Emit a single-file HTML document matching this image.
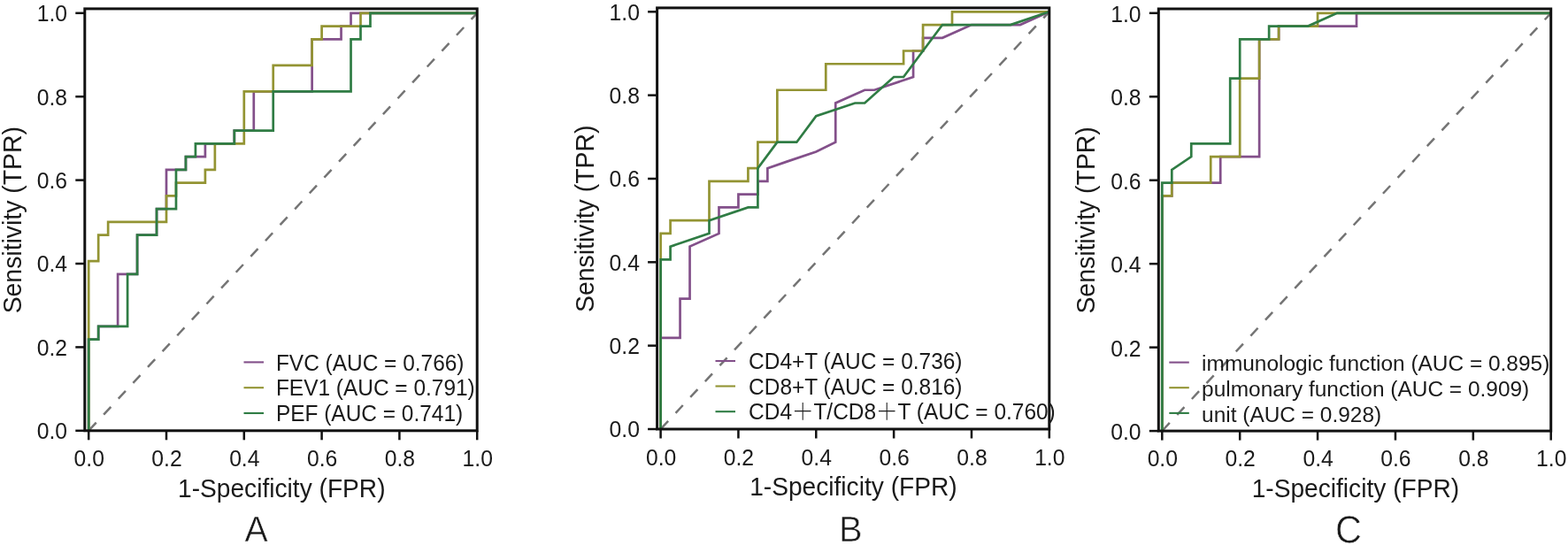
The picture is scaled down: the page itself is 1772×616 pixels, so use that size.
<!DOCTYPE html>
<html lang="en"><head><meta charset="utf-8"><title>ROC curves</title>
<style>html,body{margin:0;padding:0;background:#fff}body{width:1772px;height:616px;overflow:hidden}svg{display:block}text{font-family:"Liberation Sans", sans-serif;fill:#1a1a1a}text.pl{stroke:#fff;stroke-width:0.6px;paint-order:fill}text.cj{font-family:"Liberation Sans","Noto Serif CJK SC",serif}</style>
</head><body>
<svg width="1772" height="616" viewBox="0 0 1772 616">
<rect x="0" y="0" width="1772" height="616" fill="#ffffff"/>
<g>
<line x1="100.2" y1="486.8" x2="539.2" y2="14.8" stroke="#747474" stroke-width="2.5" stroke-dasharray="12 12.4" stroke-dashoffset="-0.5"/>
<polyline points="100.2,486.8 100.2,383.55 111.18,383.55 111.18,368.8 133.12,368.8 133.12,309.8 155.08,309.8 155.08,265.55 177.03,265.55 177.03,236.05 188,236.05 188,191.8 209.95,191.8 209.95,177.05 231.9,177.05 231.9,162.3 264.83,162.3 264.83,147.55 286.78,147.55 286.78,103.3 352.62,103.3 352.62,44.3 385.55,44.3 385.55,29.55 396.53,29.55 396.53,14.8 539.2,14.8" fill="none" stroke="#83508a" stroke-width="2.7" stroke-linejoin="miter"/>
<polyline points="100.2,486.8 100.2,295.05 111.18,295.05 111.18,265.55 122.15,265.55 122.15,250.8 188,250.8 188,221.3 198.98,221.3 198.98,206.55 231.9,206.55 231.9,191.8 242.88,191.8 242.88,162.3 275.8,162.3 275.8,103.3 308.73,103.3 308.73,73.8 352.62,73.8 352.62,44.3 363.6,44.3 363.6,29.55 407.5,29.55 407.5,14.8 539.2,14.8" fill="none" stroke="#939433" stroke-width="2.7" stroke-linejoin="miter"/>
<polyline points="100.2,486.8 100.2,383.55 111.18,383.55 111.18,368.8 144.1,368.8 144.1,309.8 155.08,309.8 155.08,265.55 177.03,265.55 177.03,236.05 198.98,236.05 198.98,191.8 209.95,191.8 209.95,177.05 220.93,177.05 220.93,162.3 264.83,162.3 264.83,147.55 308.73,147.55 308.73,103.3 396.53,103.3 396.53,44.3 407.5,44.3 407.5,29.55 418.48,29.55 418.48,14.8 539.2,14.8" fill="none" stroke="#2f7c44" stroke-width="2.7" stroke-linejoin="miter"/>
<rect x="95.8" y="9.9" width="443.4" height="476.9" fill="none" stroke="#111111" stroke-width="3.0"/>
<line x1="100.2" y1="486.8" x2="100.2" y2="497.3" stroke="#111111" stroke-width="2.5"/>
<text transform="translate(100.7 527.2) scale(1 1.01)" font-size="24.7" text-anchor="middle">0.0</text>
<line x1="85.3" y1="486.8" x2="95.8" y2="486.8" stroke="#111111" stroke-width="2.5"/>
<text transform="translate(76.1 496.2) scale(1 1.01)" font-size="24.7" text-anchor="end">0.0</text>
<line x1="188" y1="486.8" x2="188" y2="497.3" stroke="#111111" stroke-width="2.5"/>
<text transform="translate(188.5 527.2) scale(1 1.01)" font-size="24.7" text-anchor="middle">0.2</text>
<line x1="85.3" y1="392.4" x2="95.8" y2="392.4" stroke="#111111" stroke-width="2.5"/>
<text transform="translate(76.1 401.8) scale(1 1.01)" font-size="24.7" text-anchor="end">0.2</text>
<line x1="275.8" y1="486.8" x2="275.8" y2="497.3" stroke="#111111" stroke-width="2.5"/>
<text transform="translate(276.3 527.2) scale(1 1.01)" font-size="24.7" text-anchor="middle">0.4</text>
<line x1="85.3" y1="298" x2="95.8" y2="298" stroke="#111111" stroke-width="2.5"/>
<text transform="translate(76.1 307.4) scale(1 1.01)" font-size="24.7" text-anchor="end">0.4</text>
<line x1="363.6" y1="486.8" x2="363.6" y2="497.3" stroke="#111111" stroke-width="2.5"/>
<text transform="translate(364.1 527.2) scale(1 1.01)" font-size="24.7" text-anchor="middle">0.6</text>
<line x1="85.3" y1="203.6" x2="95.8" y2="203.6" stroke="#111111" stroke-width="2.5"/>
<text transform="translate(76.1 213) scale(1 1.01)" font-size="24.7" text-anchor="end">0.6</text>
<line x1="451.4" y1="486.8" x2="451.4" y2="497.3" stroke="#111111" stroke-width="2.5"/>
<text transform="translate(451.9 527.2) scale(1 1.01)" font-size="24.7" text-anchor="middle">0.8</text>
<line x1="85.3" y1="109.2" x2="95.8" y2="109.2" stroke="#111111" stroke-width="2.5"/>
<text transform="translate(76.1 118.6) scale(1 1.01)" font-size="24.7" text-anchor="end">0.8</text>
<line x1="539.2" y1="486.8" x2="539.2" y2="497.3" stroke="#111111" stroke-width="2.5"/>
<text transform="translate(539.7 527.2) scale(1 1.01)" font-size="24.7" text-anchor="middle">1.0</text>
<line x1="85.3" y1="14.8" x2="95.8" y2="14.8" stroke="#111111" stroke-width="2.5"/>
<text transform="translate(76.1 24.2) scale(1 1.01)" font-size="24.7" text-anchor="end">1.0</text>
<text transform="translate(318.3 561.7) scale(1 1.055)" font-size="28.15" text-anchor="middle">1-Specificity (FPR)</text>
<text transform="translate(23.7 248.7) rotate(-90) scale(1 1.02)" font-size="28.4" text-anchor="middle">Sensitivity (TPR)</text>
<line x1="275.5" y1="409.4" x2="298" y2="409.4" stroke="#83508a" stroke-width="2.1"/>
<text transform="translate(311.9 418.5) scale(1 1.04)" font-size="24.45">FVC (AUC = 0.766)</text>
<line x1="275.5" y1="438.2" x2="298" y2="438.2" stroke="#939433" stroke-width="2.1"/>
<text transform="translate(311.9 447.3) scale(1 1.04)" font-size="24.45">FEV1 (AUC = 0.791)</text>
<line x1="275.5" y1="467" x2="298" y2="467" stroke="#2f7c44" stroke-width="2.1"/>
<text transform="translate(311.9 476.1) scale(1 1.04)" font-size="24.45">PEF (AUC = 0.741)</text>
<text transform="translate(289.6 611.5) scale(1 1.018)" font-size="39.4" text-anchor="middle" class="pl">A</text>
</g>
<g>
<line x1="746.6" y1="485" x2="1185.8" y2="13.3" stroke="#747474" stroke-width="2.5" stroke-dasharray="12 12.4" stroke-dashoffset="-0.5"/>
<polyline points="746.6,485 746.6,381.82 768.56,381.82 768.56,337.59 779.54,337.59 779.54,278.63 812.48,263.89 812.48,234.41 834.44,234.41 834.44,219.67 856.4,219.67 856.4,204.93 867.38,204.93 867.38,190.19 889.34,182.64 922.28,171.56 944.24,160.71 944.24,116.48 977.18,101.74 988.16,101.74 1032.08,87 1032.08,57.52 1043.06,57.52 1043.06,42.78 1065.02,42.78 1097.96,28.04 1152.86,28.04 1185.8,13.3" fill="none" stroke="#83508a" stroke-width="2.7" stroke-linejoin="miter"/>
<polyline points="746.6,485 746.6,263.89 757.58,263.89 757.58,249.15 801.5,249.15 801.5,204.93 845.42,204.93 845.42,190.19 856.4,190.19 856.4,160.71 878.36,160.71 878.36,101.74 933.26,101.74 933.26,72.26 1021.1,72.26 1021.1,57.52 1043.06,57.52 1043.06,28.04 1076,28.04 1076,13.3 1185.8,13.3" fill="none" stroke="#939433" stroke-width="2.7" stroke-linejoin="miter"/>
<polyline points="746.6,485 746.6,293.37 757.58,293.37 757.58,278.63 801.5,263.89 801.5,249.15 845.42,234.41 856.4,234.41 856.4,190.19 878.36,160.71 900.32,160.71 922.28,131.23 966.2,116.48 977.18,116.48 1010.12,87 1021.1,87 1065.02,28.04 1141.88,28.04 1185.8,13.3" fill="none" stroke="#2f7c44" stroke-width="2.7" stroke-linejoin="miter"/>
<rect x="742.6" y="8.9" width="443.2" height="476.1" fill="none" stroke="#111111" stroke-width="3.0"/>
<line x1="746.6" y1="485" x2="746.6" y2="495.5" stroke="#111111" stroke-width="2.5"/>
<text transform="translate(747.1 526.3) scale(1 1.01)" font-size="24.7" text-anchor="middle">0.0</text>
<line x1="732.1" y1="485" x2="742.6" y2="485" stroke="#111111" stroke-width="2.5"/>
<text transform="translate(722.9 494.4) scale(1 1.01)" font-size="24.7" text-anchor="end">0.0</text>
<line x1="834.44" y1="485" x2="834.44" y2="495.5" stroke="#111111" stroke-width="2.5"/>
<text transform="translate(834.94 526.3) scale(1 1.01)" font-size="24.7" text-anchor="middle">0.2</text>
<line x1="732.1" y1="390.66" x2="742.6" y2="390.66" stroke="#111111" stroke-width="2.5"/>
<text transform="translate(722.9 400.06) scale(1 1.01)" font-size="24.7" text-anchor="end">0.2</text>
<line x1="922.28" y1="485" x2="922.28" y2="495.5" stroke="#111111" stroke-width="2.5"/>
<text transform="translate(922.78 526.3) scale(1 1.01)" font-size="24.7" text-anchor="middle">0.4</text>
<line x1="732.1" y1="296.32" x2="742.6" y2="296.32" stroke="#111111" stroke-width="2.5"/>
<text transform="translate(722.9 305.72) scale(1 1.01)" font-size="24.7" text-anchor="end">0.4</text>
<line x1="1010.12" y1="485" x2="1010.12" y2="495.5" stroke="#111111" stroke-width="2.5"/>
<text transform="translate(1010.62 526.3) scale(1 1.01)" font-size="24.7" text-anchor="middle">0.6</text>
<line x1="732.1" y1="201.98" x2="742.6" y2="201.98" stroke="#111111" stroke-width="2.5"/>
<text transform="translate(722.9 211.38) scale(1 1.01)" font-size="24.7" text-anchor="end">0.6</text>
<line x1="1097.96" y1="485" x2="1097.96" y2="495.5" stroke="#111111" stroke-width="2.5"/>
<text transform="translate(1098.46 526.3) scale(1 1.01)" font-size="24.7" text-anchor="middle">0.8</text>
<line x1="732.1" y1="107.64" x2="742.6" y2="107.64" stroke="#111111" stroke-width="2.5"/>
<text transform="translate(722.9 117.04) scale(1 1.01)" font-size="24.7" text-anchor="end">0.8</text>
<line x1="1185.8" y1="485" x2="1185.8" y2="495.5" stroke="#111111" stroke-width="2.5"/>
<text transform="translate(1186.3 526.3) scale(1 1.01)" font-size="24.7" text-anchor="middle">1.0</text>
<line x1="732.1" y1="13.3" x2="742.6" y2="13.3" stroke="#111111" stroke-width="2.5"/>
<text transform="translate(722.9 22.7) scale(1 1.01)" font-size="24.7" text-anchor="end">1.0</text>
<text transform="translate(964.4 560.4) scale(1 1.055)" font-size="28.15" text-anchor="middle">1-Specificity (FPR)</text>
<text transform="translate(670.5 247.3) rotate(-90) scale(1 1.02)" font-size="28.4" text-anchor="middle">Sensitivity (TPR)</text>
<line x1="808.5" y1="408" x2="831" y2="408" stroke="#83508a" stroke-width="2.1"/>
<text transform="translate(846.1 417.1) scale(1 1.04)" font-size="24.45">CD4+T (AUC = 0.736)</text>
<line x1="808.5" y1="436.5" x2="831" y2="436.5" stroke="#939433" stroke-width="2.1"/>
<text transform="translate(846.1 445.6) scale(1 1.04)" font-size="24.45">CD8+T (AUC = 0.816)</text>
<line x1="808.5" y1="465.2" x2="831" y2="465.2" stroke="#2f7c44" stroke-width="2.1"/>
<text transform="translate(846.1 474.3) scale(1 1.04)" font-size="24.45" class="cj">CD4＋T/CD8＋T (AUC = 0.760)</text>
<text transform="translate(961.4 611.5) scale(1 1.02)" font-size="39.85" text-anchor="middle" class="pl">B</text>
</g>
<g>
<line x1="1313.3" y1="487.1" x2="1752.7" y2="14.8" stroke="#747474" stroke-width="2.5" stroke-dasharray="12 12.4" stroke-dashoffset="-0.5"/>
<polyline points="1313.3,487.1 1313.3,221.43 1324.28,221.43 1324.28,206.67 1379.21,206.67 1379.21,177.15 1423.15,177.15 1423.15,44.32 1445.12,44.32 1445.12,29.56 1533,29.56 1533,14.8 1752.7,14.8" fill="none" stroke="#83508a" stroke-width="2.7" stroke-linejoin="miter"/>
<polyline points="1313.3,487.1 1313.3,221.43 1324.28,221.43 1324.28,206.67 1368.22,206.67 1368.22,177.15 1401.18,177.15 1401.18,88.6 1423.15,88.6 1423.15,44.32 1445.12,44.32 1445.12,29.56 1489.06,29.56 1489.06,14.8 1752.7,14.8" fill="none" stroke="#939433" stroke-width="2.7" stroke-linejoin="miter"/>
<polyline points="1313.3,487.1 1313.3,206.67 1324.28,206.67 1324.28,191.91 1346.25,177.15 1346.25,162.39 1390.19,162.39 1390.19,88.6 1401.18,88.6 1401.18,44.32 1434.13,44.32 1434.13,29.56 1478.08,29.56 1511.03,14.8 1752.7,14.8" fill="none" stroke="#2f7c44" stroke-width="2.7" stroke-linejoin="miter"/>
<rect x="1309.3" y="10" width="443.4" height="477.1" fill="none" stroke="#111111" stroke-width="3.0"/>
<line x1="1313.3" y1="487.1" x2="1313.3" y2="497.6" stroke="#111111" stroke-width="2.5"/>
<text transform="translate(1313.8 527.1) scale(1 1.01)" font-size="24.7" text-anchor="middle">0.0</text>
<line x1="1298.8" y1="487.1" x2="1309.3" y2="487.1" stroke="#111111" stroke-width="2.5"/>
<text transform="translate(1289.6 497.1) scale(1 1.01)" font-size="24.7" text-anchor="end">0.0</text>
<line x1="1401.18" y1="487.1" x2="1401.18" y2="497.6" stroke="#111111" stroke-width="2.5"/>
<text transform="translate(1401.68 527.1) scale(1 1.01)" font-size="24.7" text-anchor="middle">0.2</text>
<line x1="1298.8" y1="392.64" x2="1309.3" y2="392.64" stroke="#111111" stroke-width="2.5"/>
<text transform="translate(1289.6 402.64) scale(1 1.01)" font-size="24.7" text-anchor="end">0.2</text>
<line x1="1489.06" y1="487.1" x2="1489.06" y2="497.6" stroke="#111111" stroke-width="2.5"/>
<text transform="translate(1489.56 527.1) scale(1 1.01)" font-size="24.7" text-anchor="middle">0.4</text>
<line x1="1298.8" y1="298.18" x2="1309.3" y2="298.18" stroke="#111111" stroke-width="2.5"/>
<text transform="translate(1289.6 308.18) scale(1 1.01)" font-size="24.7" text-anchor="end">0.4</text>
<line x1="1576.94" y1="487.1" x2="1576.94" y2="497.6" stroke="#111111" stroke-width="2.5"/>
<text transform="translate(1577.44 527.1) scale(1 1.01)" font-size="24.7" text-anchor="middle">0.6</text>
<line x1="1298.8" y1="203.72" x2="1309.3" y2="203.72" stroke="#111111" stroke-width="2.5"/>
<text transform="translate(1289.6 213.72) scale(1 1.01)" font-size="24.7" text-anchor="end">0.6</text>
<line x1="1664.82" y1="487.1" x2="1664.82" y2="497.6" stroke="#111111" stroke-width="2.5"/>
<text transform="translate(1665.32 527.1) scale(1 1.01)" font-size="24.7" text-anchor="middle">0.8</text>
<line x1="1298.8" y1="109.26" x2="1309.3" y2="109.26" stroke="#111111" stroke-width="2.5"/>
<text transform="translate(1289.6 119.26) scale(1 1.01)" font-size="24.7" text-anchor="end">0.8</text>
<line x1="1752.7" y1="487.1" x2="1752.7" y2="497.6" stroke="#111111" stroke-width="2.5"/>
<text transform="translate(1753.2 527.1) scale(1 1.01)" font-size="24.7" text-anchor="middle">1.0</text>
<line x1="1298.8" y1="14.8" x2="1309.3" y2="14.8" stroke="#111111" stroke-width="2.5"/>
<text transform="translate(1289.6 24.8) scale(1 1.01)" font-size="24.7" text-anchor="end">1.0</text>
<text transform="translate(1531.9 561.8) scale(1 1.055)" font-size="28.15" text-anchor="middle">1-Specificity (FPR)</text>
<text transform="translate(1237.2 248.9) rotate(-90) scale(1 1.02)" font-size="28.4" text-anchor="middle">Sensitivity (TPR)</text>
<line x1="1321.3" y1="409.6" x2="1343.8" y2="409.6" stroke="#83508a" stroke-width="2.1"/>
<text transform="translate(1358.1 418.7) scale(1 0.99)" font-size="24.45">immunologic function (AUC = 0.895)</text>
<line x1="1321.3" y1="438.2" x2="1343.8" y2="438.2" stroke="#939433" stroke-width="2.1"/>
<text transform="translate(1358.1 448.1) scale(1 0.99)" font-size="24.45">pulmonary function (AUC = 0.909)</text>
<line x1="1321.3" y1="466.9" x2="1343.8" y2="466.9" stroke="#2f7c44" stroke-width="2.1"/>
<text transform="translate(1358.1 476.8) scale(1 0.99)" font-size="24.45">unit (AUC = 0.928)</text>
<text transform="translate(1524 613.5) scale(1 1.06)" font-size="41.5" text-anchor="middle" class="pl">C</text>
</g>
</svg>
</body></html>
